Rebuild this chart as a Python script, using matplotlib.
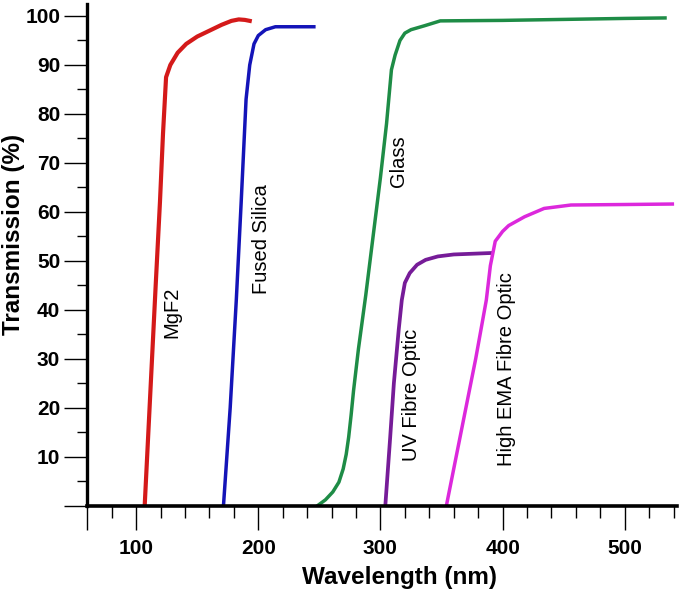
import numpy as np
from matplotlib import pyplot as plt
from matplotlib.ticker import MultipleLocator, FixedLocator, FuncFormatter

plt.rcParams['font.family'] = ['Liberation Sans', 'DejaVu Sans']

#--- courbes de transmission ---
mgf2_x = [107, 112, 116, 119.5, 122, 124.5, 128, 134, 141, 150, 160, 170, 178, 184, 189, 193]
mgf2_y = [0, 25, 45, 62, 76, 87.5, 90, 92.5, 94.3, 95.8, 97, 98.2, 99, 99.3, 99.2, 99]

silica_x = [171.5, 177, 182, 186, 190, 193, 196.5, 200, 206, 214, 245.5]
silica_y = [0, 20, 42, 62, 83, 90, 94.3, 96, 97.2, 97.8, 97.8]

glass_x = [248.5, 255, 261, 266, 269.5, 272, 274, 276, 278, 282, 288, 294, 300, 305, 309,
           312, 316, 320, 325, 336, 349, 400, 450, 500, 533]
glass_y = [0, 1.2, 2.8, 4.8, 7.5, 10.5, 14, 18.5, 23.5, 32, 43, 55, 67, 78, 89,
           92, 95, 96.5, 97.2, 98, 99, 99.1, 99.3, 99.5, 99.6]

uv_x = [304, 308, 311, 315, 317.5, 320, 324, 330, 337, 347, 360, 391]
uv_y = [0, 14, 25, 36, 42, 45.5, 47.5, 49.2, 50.2, 50.9, 51.3, 51.6]

ema_x = [354, 362, 370, 378, 386.7, 390, 394, 400, 405, 418, 434, 456, 500, 539]
ema_y = [0, 10, 20, 30, 42, 49, 54, 56, 57.2, 59, 60.7, 61.4, 61.5, 61.6]

labels = ['MgF2', 'Fused Silica', 'Glass', 'UV Fibre Optic', 'High EMA Fibre Optic']
label_pos = [(129.5, 39.5), (203, 54.4), (315, 70.3), (325.5, 22.6), (403, 27.9)]

#--- figure ---
fig = plt.figure(figsize=(6.9, 5.94), dpi=100)
ax = fig.add_axes([0.1265, 0.1487, 0.855, 0.845])

ax.plot(mgf2_x, mgf2_y, color='#d41a1a', lw=3)
ax.plot(silica_x, silica_y, color='#1414b8', lw=2.5)
ax.plot(glass_x, glass_y, color='#1e8c46', lw=2.5)
ax.plot(uv_x, uv_y, color='#761c98', lw=2.7)
ax.plot(ema_x, ema_y, color='#dc28dc', lw=2.5)

for txt, (x, y) in zip(labels, label_pos):
    ax.text(x, y, txt, rotation=90, ha='center', va='center', fontsize=14.5)

ax.set_xlim(60, 543)
ax.set_ylim(0, 102.5)

ax.spines['top'].set_visible(False)
ax.spines['right'].set_visible(False)
ax.spines['left'].set_linewidth(2.4)
ax.spines['bottom'].set_linewidth(2.6)

ax.xaxis.set_major_locator(FixedLocator([60, 100, 200, 300, 400, 500]))
ax.xaxis.set_minor_locator(MultipleLocator(20))
ax.xaxis.set_major_formatter(FuncFormatter(lambda v, p: '' if v == 60 else '%d' % v))
ax.yaxis.set_major_locator(MultipleLocator(10))
ax.yaxis.set_minor_locator(MultipleLocator(5))
ax.yaxis.set_major_formatter(FuncFormatter(lambda v, p: '' if v == 0 else '%d' % v))

ax.tick_params(axis='x', which='major', length=17, width=1, pad=7, labelsize=15)
ax.tick_params(axis='x', which='minor', length=8.6, width=1)
ax.tick_params(axis='y', which='major', length=16.5, width=1, pad=3, labelsize=15)
ax.tick_params(axis='y', which='minor', length=7.2, width=1)
for lab in ax.get_xticklabels() + ax.get_yticklabels():
    lab.set_fontweight('bold')

ax.set_xlabel('Wavelength (nm)', fontsize=17.5, fontweight='bold')
ax.set_ylabel('Transmission (%)', fontsize=17.5, fontweight='bold')
ax.xaxis.set_label_coords(0.53, -0.12)
ax.yaxis.set_label_coords(-0.105, 0.541)

plt.savefig('out.png', dpi=100)
